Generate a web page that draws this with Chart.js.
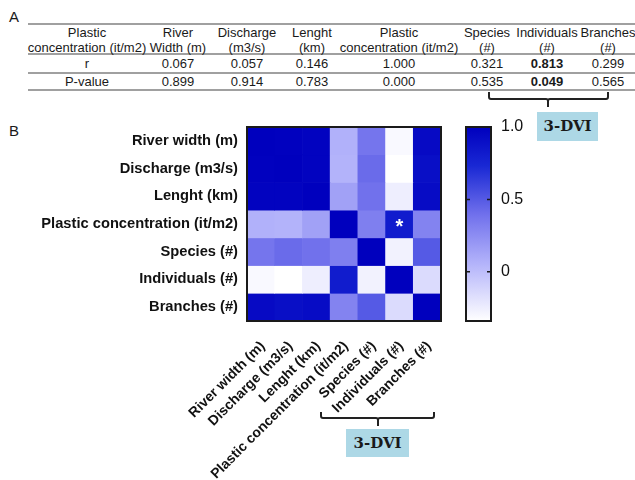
<!DOCTYPE html>
<html><head><meta charset="utf-8">
<script src="https://cdn.jsdelivr.net/npm/chart.js@4/dist/chart.umd.min.js"></script>
<style>
html,body{margin:0;padding:0;background:#fff;}
#wrap{position:relative;width:635px;height:480px;overflow:hidden;font-family:"Liberation Sans",Arial,sans-serif;color:#1a1a1a;}
.abs{position:absolute;}
.hline{position:absolute;height:2px;background:#a0a0a0;left:28px;width:607px;}
.cell{position:absolute;text-align:center;font-size:13px;line-height:15px;white-space:nowrap;width:150px;}
.box{position:absolute;background:#add8e6;font-family:"DejaVu Serif",serif;font-weight:bold;font-size:15px;text-align:center;color:#1a1a1a;}
canvas{position:absolute;}
</style></head><body><div id="wrap">
<div class="abs" style="left:9px;top:8px;font-size:15px">A</div>
<div class="abs" style="left:9px;top:122px;font-size:15px">B</div>
<div id="table"></div>
<svg class="abs" style="left:0;top:0" width="635" height="480">
<path d="M489,92 L489,97 Q489,99 491,99 L546,99 Q548,99 548,101 L548,107 M548,101 Q548,99 550,99 L606,99 Q608,99 608,97 L608,92" fill="none" stroke="#222" stroke-width="2"/>
<path d="M321,412 L321,416 Q321,418 323,418 L376,418 Q378,418 378,420 L378,426 M378,420 Q378,418 380,418 L432,418 Q434,418 434,416 L434,412" fill="none" stroke="#222" stroke-width="2"/>
</svg>
<div class="box" style="left:537px;top:112px;width:61px;height:29px;line-height:29px">3-DVI</div>
<div class="box" style="left:346px;top:429px;width:63px;height:28px;line-height:28px">3-DVI</div>
<canvas id="heat" width="635" height="480" style="left:0;top:0"></canvas>
<canvas id="cb" width="110" height="234" style="left:456px;top:107px"></canvas>
</div>
<script>
// ---- data ----
const rowLabels = ['River width (m)','Discharge (m3/s)','Lenght (km)','Plastic concentration (it/m2)','Species (#)','Individuals (#)','Branches (#)'];
const colLabels = rowLabels;
const riverWidthR  = [1.00, 0.99, 0.98, 0.067, 0.37, -0.31, 0.93];
const dischargeR   = [0.99, 1.00, 0.98, 0.057, 0.42, -0.34, 0.90];
const lengthR      = [0.98, 0.98, 1.00, 0.146, 0.39, -0.25, 0.92];
const plasticR     = [0.067, 0.057, 0.146, 1.000, 0.321, 0.813, 0.299];
const speciesR     = [0.37, 0.42, 0.39, 0.321, 1.00, -0.27, 0.50];
const individualsR = [-0.31, -0.34, -0.25, 0.813, -0.27, 1.00, -0.15];
const branchesR    = [0.93, 0.90, 0.92, 0.299, 0.50, -0.15, 1.00];
const plasticP     = [0.899, 0.914, 0.783, 0.000, 0.535, 0.049, 0.565];
const significantCells = [[3, 5]];
const tableHeaders = ['Plastic\nconcentration (it/m2)','River\nWidth (m)','Discharge\n(m3/s)','Lenght\n(km)','Plastic\nconcentration (it/m2)','Species\n(#)','Individuals\n(#)','Branches\n(#)'];
const tableRowNames = ['r','P-value'];
const boldColumns = [5];
const cbMin = -0.34, cbMax = 1.0;
const cbTicks = [0, 0.5, 1.0];
const cbTickLabels = ['0', '0.5', '1.0'];

const matrix = [riverWidthR, dischargeR, lengthR, plasticR, speciesR, individualsR, branchesR];

// ---- colour map ----
const cmapStops = [[0,[255,255,255]],[0.3,[178,178,250]],[0.55,[112,112,236]],[0.8,[25,40,212]],[1,[0,0,190]]];
function cmap(t){
  t = Math.max(0, Math.min(1, t));
  for (let i = 1; i < cmapStops.length; i++) {
    const [t1, c1] = cmapStops[i], [t0, c0] = cmapStops[i-1];
    if (t <= t1) {
      const f = (t - t0) / (t1 - t0);
      return 'rgb(' + c0.map((v, k) => Math.round(v + (c1[k] - v) * f)).join(',') + ')';
    }
  }
  return 'rgb(0,0,190)';
}
const colorFor = v => cmap((v - cbMin) / (cbMax - cbMin));

// ---- table ----
const colCenters = [87,178,247,312,399,487,547,608];
const tbl = document.getElementById('table');
function addCell(text, cx, top, bold){
  const d = document.createElement('div');
  d.className = 'cell';
  d.style.left = (cx - 75) + 'px';
  d.style.top = top + 'px';
  if (bold) d.style.fontWeight = 'bold';
  d.innerText = text;
  tbl.appendChild(d);
}
[23, 53, 72, 89].forEach(y => { const l = document.createElement('div'); l.className = 'hline'; l.style.top = y + 'px'; tbl.appendChild(l); });
tableHeaders.forEach((h, i) => addCell(h, colCenters[i], 25, false));
addCell(tableRowNames[0], colCenters[0], 56, false);
addCell(tableRowNames[1], colCenters[0], 74, false);
plasticR.forEach((v, i) => addCell(v.toFixed(3), colCenters[i+1], 56, boldColumns.includes(i)));
plasticP.forEach((v, i) => addCell(v.toFixed(3), colCenters[i+1], 74, boldColumns.includes(i)));

// ---- heatmap ----
const labelFont = {family: '"Liberation Sans", Arial, sans-serif', size: 14.7, weight: 'bold'};
const xLabelFont = {family: '"Liberation Sans", Arial, sans-serif', size: 14, weight: 'bold'};
const heatFrame = {
  id: 'heatFrame',
  afterDatasetsDraw(chart){
    const {ctx, chartArea: a, scales} = chart;
    ctx.save();
    ctx.fillStyle = '#fff';
    ctx.font = 'bold 20px "Liberation Sans", Arial';
    ctx.textAlign = 'center';
    ctx.textBaseline = 'middle';
    significantCells.forEach(([r, c]) => ctx.fillText('*', scales.x.getPixelForValue(c), scales.y.getPixelForValue(r + 0.5) + 3));
    ctx.strokeStyle = '#1a1a1a';
    ctx.lineWidth = 2;
    ctx.strokeRect(a.left, a.top, a.right - a.left, a.bottom - a.top);
    ctx.restore();
  }
};
new Chart(document.getElementById('heat'), {
  type: 'bar',
  data: {
    labels: colLabels,
    datasets: matrix.map((row, r) => ({
      data: row.map(() => [r, r + 1]),
      backgroundColor: row.map(colorFor),
      borderWidth: 0, barPercentage: 1, categoryPercentage: 1, grouped: false
    }))
  },
  options: {
    responsive: false, animation: false, devicePixelRatio: 1,
    layout: {padding: {top: 127, right: 194, left: 0, bottom: 0}},
    plugins: {legend: {display: false}, tooltip: {enabled: false}},
    scales: {
      x: {
        type: 'category', grid: {display: false, drawTicks: false}, border: {display: false},
        ticks: {autoSkip: false, minRotation: 45, maxRotation: 45, padding: 17, labelOffset: 2, color: '#111', font: xLabelFont},
        afterFit(s){ s.height = 159; }
      },
      y: {
        type: 'linear', min: 0, max: 7, reverse: true,
        grid: {display: false, drawTicks: false}, border: {display: false},
        afterBuildTicks(s){ s.ticks = rowLabels.map((_, i) => ({value: i + 0.5})); },
        ticks: {autoSkip: false, padding: 9, color: '#111', font: labelFont, callback: v => rowLabels[Math.floor(v)]},
        afterFit(s){ s.width = 247; }
      }
    }
  },
  plugins: [heatFrame]
});

// ---- colour bar ----
const cbFrame = {
  id: 'cbFrame',
  afterDatasetsDraw(chart){
    const {ctx, chartArea: a, scales} = chart;
    ctx.save();
    ctx.strokeStyle = '#1a1a1a';
    ctx.lineWidth = 2;
    ctx.strokeRect(a.left, a.top, a.right - a.left, a.bottom - a.top);
    ctx.lineWidth = 1.5;
    cbTicks.forEach(v => {
      const y = scales.y.getPixelForValue(v);
      ctx.beginPath();
      ctx.moveTo(a.left, y); ctx.lineTo(a.left + 4, y);
      ctx.moveTo(a.right, y); ctx.lineTo(a.right - 4, y);
      ctx.stroke();
    });
    ctx.restore();
  }
};
new Chart(document.getElementById('cb'), {
  type: 'bar',
  data: {
    labels: [''],
    datasets: [{
      data: [[cbMin, cbMax]],
      backgroundColor: c => {
        const ch = c.chart, a = ch.chartArea;
        if (!a) return '#fff';
        const g = ch.ctx.createLinearGradient(0, a.bottom, 0, a.top);
        cmapStops.forEach(([t, col]) => g.addColorStop(t, 'rgb(' + col.join(',') + ')'));
        return g;
      },
      borderWidth: 0, barPercentage: 1, categoryPercentage: 1
    }]
  },
  options: {
    responsive: false, animation: false, devicePixelRatio: 1,
    layout: {padding: {left: 10, top: 20, bottom: 20, right: 0}},
    plugins: {legend: {display: false}, tooltip: {enabled: false}},
    scales: {
      x: {display: false},
      y: {
        position: 'right', min: cbMin, max: cbMax,
        grid: {display: false, drawTicks: false}, border: {display: false},
        afterBuildTicks(s){ s.ticks = cbTicks.map(v => ({value: v})); },
        ticks: {padding: 10, color: '#111', font: {family: '"Liberation Sans", Arial, sans-serif', size: 16}, callback: (v, i) => cbTickLabels[i]},
        afterFit(s){ s.width = 75; }
      }
    }
  },
  plugins: [cbFrame]
});
</script>
</body></html>
